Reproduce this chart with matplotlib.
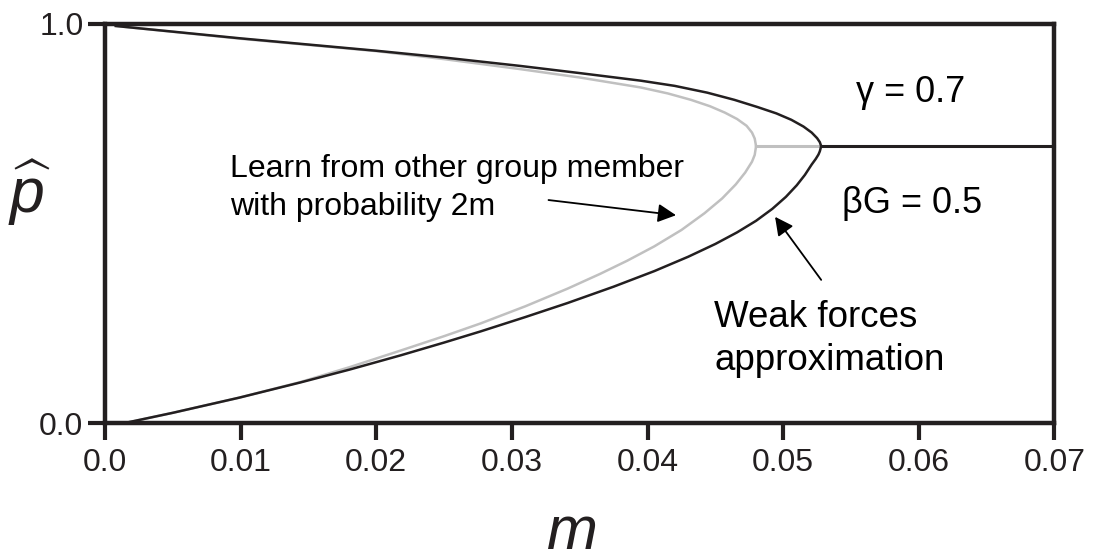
import matplotlib
matplotlib.use('Agg')
import matplotlib.pyplot as plt

plt.rcParams['font.family'] = ['Liberation Sans', 'DejaVu Sans']
plt.rcParams['mathtext.fontset'] = 'custom'
plt.rcParams['mathtext.it'] = 'Liberation Sans:italic'
plt.rcParams['mathtext.rm'] = 'Liberation Sans'

# black curve (weak forces approximation), upper and lower branch
black_up_m = [0.0008, 0.0100, 0.0200, 0.0250, 0.0306, 0.0350, 0.0395, 0.0420, 0.0444, 0.0464,
              0.0481, 0.0495, 0.0506, 0.0515, 0.0521, 0.0525, 0.0527, 0.0528]
black_up_p = [0.995, 0.964, 0.933, 0.916, 0.895, 0.877, 0.858, 0.845, 0.828, 0.810,
              0.792, 0.776, 0.760, 0.743, 0.728, 0.714, 0.704, 0.694]
black_lo_m = [0.0528, 0.0527, 0.0526, 0.0524, 0.0521, 0.0516, 0.0510, 0.0502, 0.0492, 0.0480,
              0.0466, 0.0450, 0.0430, 0.0405, 0.0375, 0.0341, 0.0310, 0.0277, 0.0250, 0.0218,
              0.0180, 0.0144, 0.0099, 0.0050, 0.0014]
black_lo_p = [0.694, 0.681, 0.673, 0.662, 0.648, 0.622, 0.596, 0.567, 0.537, 0.507,
              0.478, 0.449, 0.417, 0.381, 0.342, 0.301, 0.266, 0.230, 0.202, 0.170,
              0.134, 0.102, 0.064, 0.026, 0.0]

# gray curve (learn from other group member with probability 2m)
gray_up_m = [0.0008, 0.0100, 0.0200, 0.0250, 0.0306, 0.0350, 0.0395, 0.0415, 0.0432, 0.0446,
             0.0457, 0.0466, 0.0473, 0.0477, 0.0479, 0.0480]
gray_up_p = [0.995, 0.963, 0.932, 0.912, 0.887, 0.866, 0.841, 0.826, 0.810, 0.794,
             0.778, 0.762, 0.745, 0.728, 0.713, 0.694]
gray_lo_m = [0.0480, 0.0479, 0.0477, 0.0472, 0.0465, 0.0455, 0.0442, 0.0425, 0.0405, 0.0385,
             0.0365, 0.0341, 0.0310, 0.0277, 0.0250, 0.0218, 0.0180, 0.0144, 0.0099, 0.0050,
             0.0014]
gray_lo_p = [0.694, 0.672, 0.655, 0.628, 0.598, 0.563, 0.526, 0.484, 0.443, 0.407,
             0.374, 0.337, 0.293, 0.250, 0.218, 0.182, 0.140, 0.103, 0.064, 0.026,
             0.0]

# flat part beyond the tips
gray_flat_m = [0.0480, 0.0528]
black_flat_m = [0.0528, 0.07]
flat_p = [0.694, 0.694]

xticks = [0.0, 0.01, 0.02, 0.03, 0.04, 0.05, 0.06, 0.07]
xticklabels = ['0.0', '0.01', '0.02', '0.03', '0.04', '0.05', '0.06', '0.07']
yticks = [0.0, 1.0]
yticklabels = ['0.0', '1.0']

dark = '#231f20'
light = '#c0c0c0'

fig = plt.figure(figsize=(10.99, 5.54), dpi=100)
ax = fig.add_axes([0.0955, 0.2361, 0.864, 0.7206])

ax.plot(gray_up_m, gray_up_p, color=light, lw=1.8, clip_on=False)
ax.plot(gray_lo_m, gray_lo_p, color=light, lw=1.8, clip_on=False)
ax.plot(gray_flat_m, flat_p, color=light, lw=2.2, clip_on=False)
ax.plot(black_up_m, black_up_p, color=dark, lw=1.8, clip_on=False)
ax.plot(black_lo_m, black_lo_p, color=dark, lw=1.8, clip_on=False)
ax.plot(black_flat_m, flat_p, color=dark, lw=2.2, clip_on=False)

ax.set_xlim(0, 0.07)
ax.set_ylim(0, 1)
ax.set_xticks(xticks)
ax.set_xticklabels(xticklabels)
ax.set_yticks(yticks)
ax.set_yticklabels(yticklabels)
ax.tick_params(direction='out', length=12, width=3, color=dark,
               labelsize=23, labelcolor=dark)
ax.tick_params(axis='x', pad=6)
ax.tick_params(axis='y', pad=3.5)
for s in ax.spines.values():
    s.set_linewidth(3.2)
    s.set_color(dark)

arrow_style = dict(arrowstyle='-|>,head_length=0.55,head_width=0.28', color='black',
                   lw=1.3, mutation_scale=20, shrinkA=0, shrinkB=0)

# annotations
ax.text(0.0092, 0.617, 'Learn from other group member', fontsize=23, color='black')
ax.text(0.0092, 0.521, 'with probability 2m', fontsize=23, color='black')
ax.annotate('', xy=(0.0421, 0.521), xytext=(0.0327, 0.559), arrowprops=arrow_style)
ax.text(0.0449, 0.242, 'Weak forces', fontsize=26.5, color='black')
ax.text(0.0449, 0.133, 'approximation', fontsize=26.5, color='black')
ax.annotate('', xy=(0.0494, 0.517), xytext=(0.0528, 0.359), arrowprops=arrow_style)
ax.text(0.0554, 0.805, '\u03b3 = 0.7', fontsize=26, color='black')
ax.text(0.0543, 0.526, '\u03b2G = 0.5', fontsize=26, color='black')

# axis labels
fig.text(30 / 1099, 1 - 193 / 554, r'$\widehat{p}$', fontsize=45, ha='center', va='center', color=dark)
fig.text(572 / 1099, 1 - 549 / 554, 'm', fontsize=44, style='italic', ha='center',
         va='baseline', color=dark)

fig.savefig('out.png', dpi=100)
